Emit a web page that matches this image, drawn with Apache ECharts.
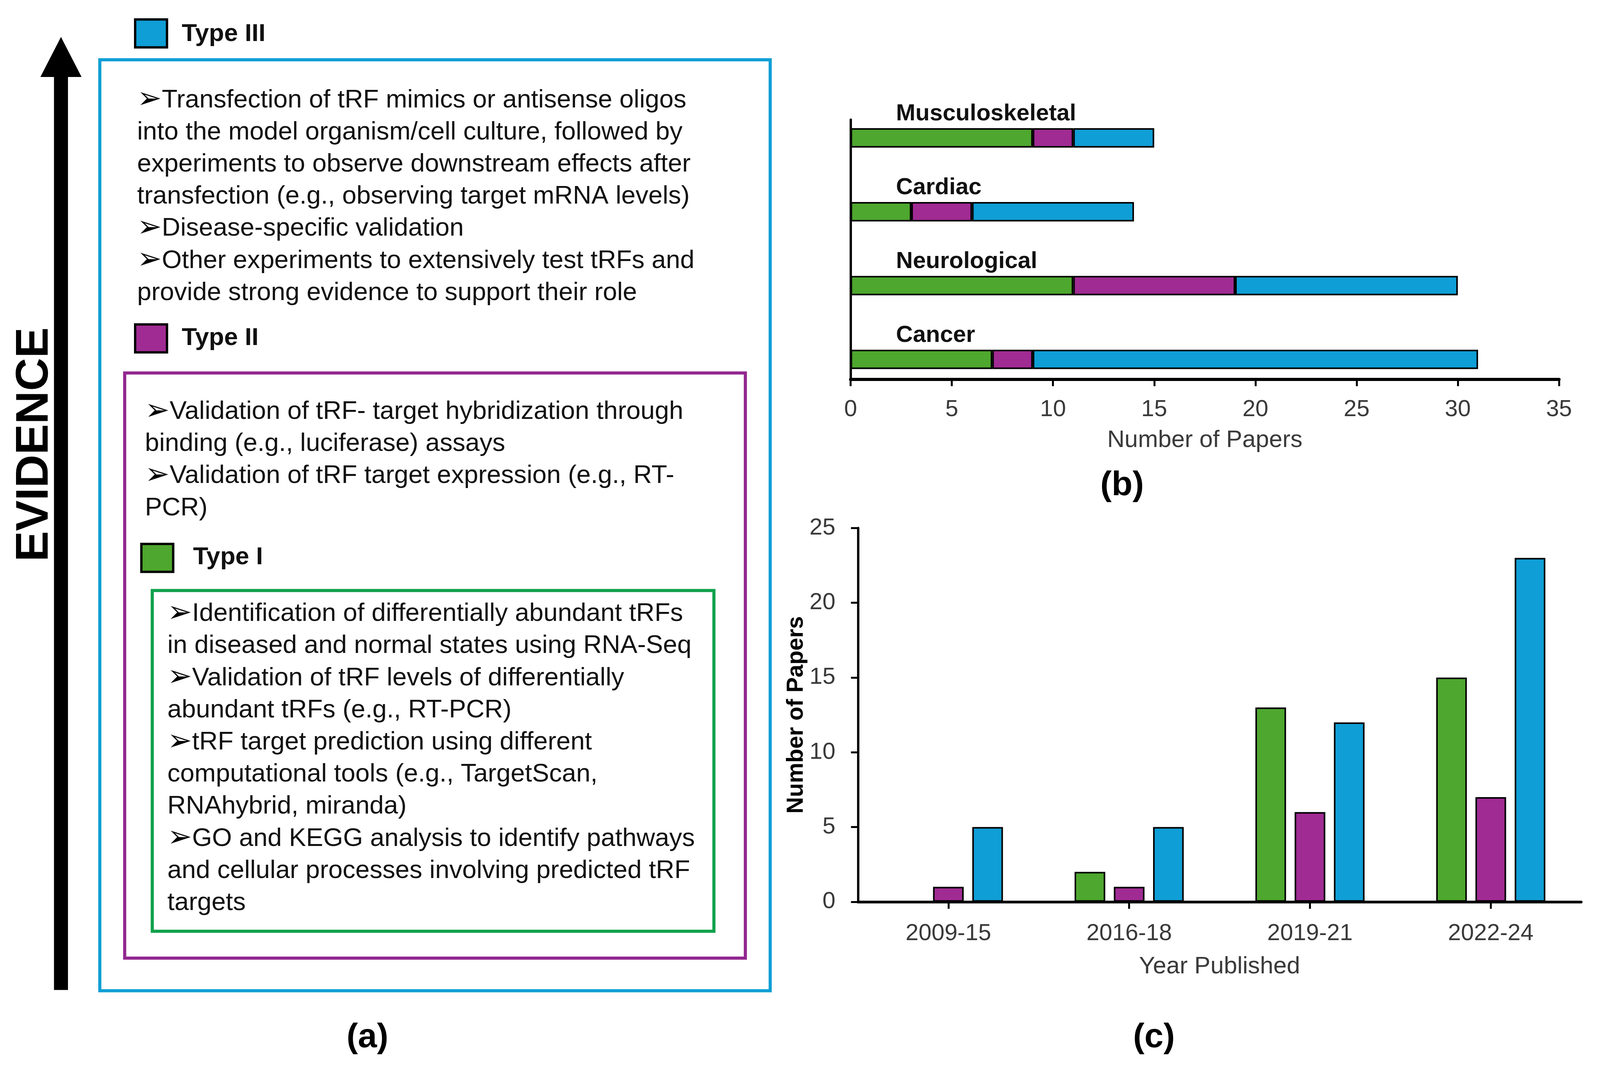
<!DOCTYPE html>
<html lang="en">
<head>
    <meta charset="utf-8">
    <title>tRF evidence types</title>
    <script src="https://cdn.jsdelivr.net/npm/echarts@6/dist/echarts.min.js"></script>
    <style>
        html, body { margin: 0; padding: 0; background: #fff; }
        #chart { width: 4122px; height: 2746px; }
    </style>
</head>
<body>
    <div id="chart"></div>
    <script>
        // panel (b) - papers per disease area, stacked by evidence type
        const diseases = ['Musculoskeletal', 'Cardiac', 'Neurological', 'Cancer'];
        const diseaseType1 = [9, 3, 11, 7];
        const diseaseType2 = [2, 3, 8, 2];
        const diseaseType3 = [4, 8, 11, 22];
        const diseaseTicks = [0, 5, 10, 15, 20, 25, 30, 35];

        // panel (c) - papers per publication period
        const periods = ['2009-15', '2016-18', '2019-21', '2022-24'];
        const yearType1 = [0, 2, 13, 15];
        const yearType2 = [1, 1, 6, 7];
        const yearType3 = [5, 5, 12, 23];
        const yearTicks = [0, 5, 10, 15, 20, 25];

        // panel (a) - text of the evidence boxes ('>' marks a bullet line)
        const type3Lines = [
            '>Transfection of tRF mimics or antisense oligos',
            'into the model organism/cell culture, followed by',
            'experiments to observe downstream effects after',
            'transfection (e.g., observing target mRNA levels)',
            '>Disease-specific validation',
            '>Other experiments to extensively test tRFs and',
            'provide strong evidence to support their role'
        ];
        const type2Lines = [
            '>Validation of tRF- target hybridization through',
            'binding (e.g., luciferase) assays',
            '>Validation of tRF target expression (e.g., RT-',
            'PCR)'
        ];
        const type1Lines = [
            '>Identification of differentially abundant tRFs',
            'in diseased and normal states using RNA-Seq',
            '>Validation of tRF levels of differentially',
            'abundant tRFs (e.g., RT-PCR)',
            '>tRF target prediction using different',
            'computational tools (e.g., TargetScan,',
            'RNAhybrid, miranda)',
            '>GO and KEGG analysis to identify pathways',
            'and cellular processes involving predicted tRF',
            'targets'
        ];

        const GREEN = '#4EA72E';
        const PURPLE = '#A02B93';
        const BLUE = '#0F9ED5';
        const FONT = '"Liberation Sans", Arial, Helvetica, sans-serif';
        const GREY = '#3a3a3a';

        // layout was measured slightly large, shrink every coordinate a little
        const S = 0.9943;
        const p = v => Math.round(v * S * 10) / 10;

        const chart = echarts.init(document.getElementById('chart'));

        function textLine(str, x, y, size, weight) {
            let txt = str;
            if (str.charAt(0) === '>') txt = '{arr|\u27A2}' + str.slice(1);
            return {
                type: 'text',
                x: p(x), y: p(y),
                style: {
                    text: txt,
                    fill: '#111',
                    fontSize: p(size),
                    fontWeight: weight || 'normal',
                    fontFamily: FONT,
                    textAlign: 'left', textVerticalAlign: 'middle',
                    align: 'left', verticalAlign: 'middle',
                    rich: {
                        arr: { fontSize: p(76), fontFamily: '"DejaVu Sans", sans-serif', fill: '#000', verticalAlign: 'middle' }
                    }
                }
            };
        }
        function frame(x1, y1, x2, y2, color) {
            return {
                type: 'rect',
                shape: { x: p(x1), y: p(y1), width: p(x2 - x1), height: p(y2 - y1) },
                style: { fill: 'none', stroke: color, lineWidth: 8 }
            };
        }
        function swatch(x, y, color) {
            return {
                type: 'rect',
                shape: { x: p(x), y: p(y), width: p(82), height: p(72) },
                style: { fill: color, stroke: '#000', lineWidth: 6 }
            };
        }
        function panelLabel(str, x, y) {
            return {
                type: 'text', x: p(x), y: p(y),
                style: {
                    text: str, fill: '#000', fontSize: p(88), fontWeight: 'bold', fontFamily: FONT,
                    textAlign: 'center', textVerticalAlign: 'middle',
                    align: 'center', verticalAlign: 'middle'
                }
            };
        }

        const graphics = [];
        // evidence arrow
        graphics.push({
            type: 'rect',
            shape: { x: p(139), y: p(190), width: p(36), height: p(2358) },
            style: { fill: '#000' }
        });
        graphics.push({
            type: 'polygon',
            shape: { points: [[p(157), p(95)], [p(104), p(198)], [p(210), p(198)]] },
            style: { fill: '#000' }
        });
        graphics.push({
            type: 'text', x: p(90), y: p(1144), rotation: Math.PI / 2,
            style: {
                text: 'EVIDENCE', fill: '#000', fontSize: p(118), fontWeight: 'bold', fontFamily: FONT,
                textAlign: 'center', textVerticalAlign: 'middle',
                align: 'center', verticalAlign: 'middle'
            }
        });

        // nested boxes
        graphics.push(frame(257, 154, 1983, 2550, BLUE));
        graphics.push(frame(321, 960, 1919, 2466, '#92278F'));
        graphics.push(frame(392, 1520, 1838, 2397, '#10A14B'));

        graphics.push(swatch(348, 50, BLUE));
        graphics.push(textLine('Type III', 468, 88, 64, 'bold'));
        graphics.push(swatch(348, 835, PURPLE));
        graphics.push(textLine('Type II', 468, 870, 64, 'bold'));
        graphics.push(swatch(364, 1400, GREEN));
        graphics.push(textLine('Type I', 497, 1435, 64, 'bold'));

        type3Lines.forEach((s, i) => graphics.push(textLine(s, 353, 258 + i * 82.7, 66)));
        type2Lines.forEach((s, i) => graphics.push(textLine(s, 373, 1060 + i * 82.7, 66)));
        type1Lines.forEach((s, i) => graphics.push(textLine(s, 431, 1580 + i * 82.7, 66)));

        graphics.push(panelLabel('(a)', 946, 2671));
        graphics.push(panelLabel('(b)', 2889, 1250));
        graphics.push(panelLabel('(c)', 2971, 2671));

        const barBorder = { borderColor: '#000', borderWidth: 4 };
        const bBar = p(50);

        const option = {
            backgroundColor: '#fff',
            animation: false,
            grid: [
                // (b) bars
                { left: p(2190), width: p(1824), top: p(260), height: p(760) },
                // (b) visible axes
                { left: p(2190), width: p(1824), top: p(308), height: p(668) },
                // (c)
                { left: p(2209), width: p(1862), top: p(1359), height: p(962) }
            ],
            xAxis: [
                { gridIndex: 0, type: 'value', min: 0, max: 35, show: false },
                {
                    gridIndex: 1, type: 'value', min: diseaseTicks[0], max: diseaseTicks[diseaseTicks.length - 1], interval: 5,
                    name: 'Number of Papers', nameLocation: 'middle', nameGap: p(126),
                    nameTextStyle: { fontSize: p(62), color: GREY, fontFamily: FONT },
                    axisLine: { show: true, lineStyle: { color: '#000', width: 8 } },
                    axisTick: { show: true, length: p(18), lineStyle: { color: '#000', width: 5 } },
                    axisLabel: { fontSize: p(60), color: GREY, fontFamily: FONT, margin: p(48) },
                    splitLine: { show: false }
                },
                {
                    gridIndex: 2, type: 'category', data: periods,
                    name: 'Year Published', nameLocation: 'middle', nameGap: p(136),
                    nameTextStyle: { fontSize: p(62), color: GREY, fontFamily: FONT },
                    axisLine: { lineStyle: { color: '#000', width: 7 } },
                    axisTick: { show: true, alignWithLabel: true, length: p(18), lineStyle: { color: '#000', width: 5 } },
                    axisLabel: { fontSize: p(60), color: GREY, fontFamily: FONT, margin: p(52) }
                }
            ],
            yAxis: [
                {
                    gridIndex: 0, type: 'category', data: diseases, inverse: true,
                    axisLine: { show: false }, axisTick: { show: false }, axisLabel: { show: false }
                },
                {
                    gridIndex: 1, type: 'value', min: 0, max: 1,
                    axisLine: { show: true, lineStyle: { color: '#000', width: 6 } },
                    axisTick: { show: false }, axisLabel: { show: false }, splitLine: { show: false }
                },
                {
                    gridIndex: 2, type: 'value', min: yearTicks[0], max: yearTicks[yearTicks.length - 1], interval: 5,
                    name: 'Number of Papers', nameLocation: 'middle', nameGap: p(117),
                    nameTextStyle: { fontSize: p(59), fontWeight: 'bold', color: '#000', fontFamily: FONT },
                    axisLine: { show: true, lineStyle: { color: '#000', width: 6 } },
                    axisTick: { show: true, length: p(18), lineStyle: { color: '#000', width: 5 } },
                    axisLabel: { fontSize: p(60), color: GREY, fontFamily: FONT, margin: p(58) },
                    splitLine: { show: false }
                }
            ],
            series: [
                {
                    type: 'bar', name: 'Type I', xAxisIndex: 0, yAxisIndex: 0, stack: 'd', barWidth: bBar,
                    data: diseaseType1, itemStyle: Object.assign({ color: GREEN }, barBorder),
                    // disease name sits above the left end of each bar
                    label: {
                        show: true, formatter: '{b}', position: [p(117), bBar / 2 - p(62)],
                        align: 'left', verticalAlign: 'middle',
                        fontSize: p(60), fontWeight: 'bold', color: '#111', fontFamily: FONT
                    }
                },
                { type: 'bar', name: 'Type II', xAxisIndex: 0, yAxisIndex: 0, stack: 'd', barWidth: bBar, data: diseaseType2, itemStyle: Object.assign({ color: PURPLE }, barBorder) },
                { type: 'bar', name: 'Type III', xAxisIndex: 0, yAxisIndex: 0, stack: 'd', barWidth: bBar, data: diseaseType3, itemStyle: Object.assign({ color: BLUE }, barBorder) },
                { type: 'bar', name: 'Type I', xAxisIndex: 2, yAxisIndex: 2, barWidth: p(79), barGap: '28%', data: yearType1, itemStyle: Object.assign({ color: GREEN }, barBorder) },
                { type: 'bar', name: 'Type II', xAxisIndex: 2, yAxisIndex: 2, barWidth: p(79), barGap: '28%', data: yearType2, itemStyle: Object.assign({ color: PURPLE }, barBorder) },
                { type: 'bar', name: 'Type III', xAxisIndex: 2, yAxisIndex: 2, barWidth: p(79), barGap: '28%', data: yearType3, itemStyle: Object.assign({ color: BLUE }, barBorder) }
            ],
            graphic: graphics
        };

        chart.setOption(option);
        window.addEventListener('resize', () => chart.resize());
    </script>
</body>
</html>
